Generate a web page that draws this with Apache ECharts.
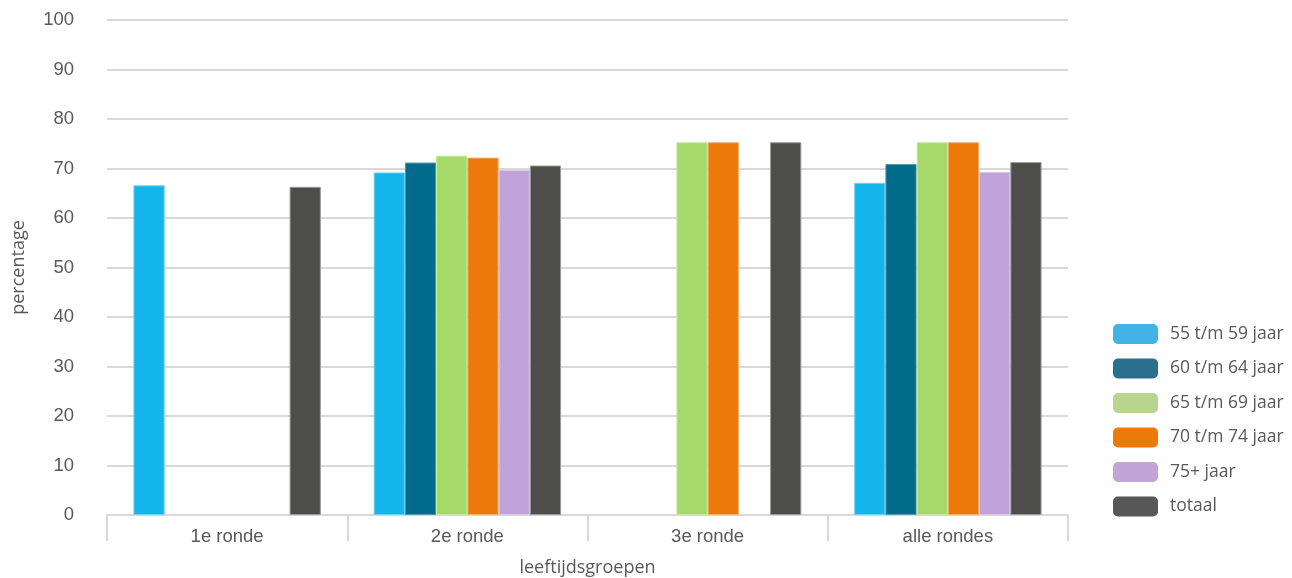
<!DOCTYPE html>
<html><head><meta charset="utf-8">
<script src="https://cdn.jsdelivr.net/npm/echarts@6/dist/echarts.min.js"></script>
<style>html,body{margin:0;padding:0;background:#fff;overflow:hidden}#c{width:1292px;height:578px}</style>
</head><body><div id="c"></div>
<script>
const categories = ['1e ronde', '2e ronde', '3e ronde', 'alle rondes'];
const seriesNames = ['55 t/m 59 jaar', '60 t/m 64 jaar', '65 t/m 69 jaar', '70 t/m 74 jaar', '75+ jaar', 'totaal'];
const s55 = [66.6, 69.2, null, 67.1];
const s60 = [null, 71.2, null, 70.9];
const s65 = [null, 72.6, 75.3, 75.3];
const s70 = [null, 72.2, 75.3, 75.3];
const s75 = [null, 69.7, null, 69.3];
const sTot = [66.3, 70.6, 75.3, 71.3];
const yTicks = [0, 10, 20, 30, 40, 50, 60, 70, 80, 90, 100];

const barColors = ['#13B5EA', '#006B8A', '#A6D96A', '#EB7A0A', '#C0A3D8', '#4D4D4B'];
const borderColors = ['#6FD2F2', '#4F97AC', '#C7E99E', '#F4AC66', '#D9C6E8', '#9A9A98'];
const legendColors = ['#41B3E6', '#2A6F8E', '#B7D58E', '#EA7A0A', '#C1A5D8', '#575757'];
const allData = [s55, s60, s65, s70, s75, sTot];

const chart = echarts.init(document.getElementById('c'), null, {renderer: 'canvas', width: 1292, height: 578});
chart.setOption({
  animation: false,
  textStyle: {fontFamily: 'Liberation Sans, Arial, sans-serif'},
  grid: {left: 107, right: 224, top: 20, bottom: 63, containLabel: false, outerBoundsMode: 'none'},
  legend: {
    orient: 'vertical', left: 1108, top: 319, itemWidth: 45, itemHeight: 20, itemGap: 14.5,
    textStyle: {color: '#595959', fontSize: 17.5, fontFamily: 'Open Sans, Noto Sans, sans-serif', padding: [0, 0, 0, 7]},
    data: seriesNames.map((n, i) => ({name: n, itemStyle: {color: legendColors[i], borderWidth: 0}}))
  },
  xAxis: {
    type: 'category', data: categories,
    name: 'leeftijdsgroepen', nameLocation: 'middle', nameGap: 44,
    nameTextStyle: {color: '#595959', fontSize: 18, fontFamily: 'Open Sans, Noto Sans, sans-serif'},
    axisLine: {lineStyle: {color: '#D9D9D9', width: 2}},
    axisTick: {show: true, length: 26, alignWithLabel: false, lineStyle: {color: '#D9D9D9', width: 2}},
    axisLabel: {color: '#595959', fontSize: 18.5, margin: 12}
  },
  yAxis: {
    type: 'value', min: 0, max: 100, interval: 10,
    name: 'percentage', nameLocation: 'middle', nameGap: 79, nameRotate: 90,
    nameTextStyle: {color: '#595959', fontSize: 18, fontFamily: 'Open Sans, Noto Sans, sans-serif'},
    axisLine: {show: false}, axisTick: {show: false},
    axisLabel: {color: '#595959', fontSize: 18.5, margin: 33},
    splitLine: {lineStyle: {color: '#D9D9D9', width: 2}}
  },
  series: seriesNames.map((n, i) => ({
    name: n, type: 'bar', data: allData[i],
    barGap: '0%', barCategoryGap: '22%',
    itemStyle: {color: barColors[i], borderColor: borderColors[i], borderWidth: 1}
  }))
});
</script></body></html>
